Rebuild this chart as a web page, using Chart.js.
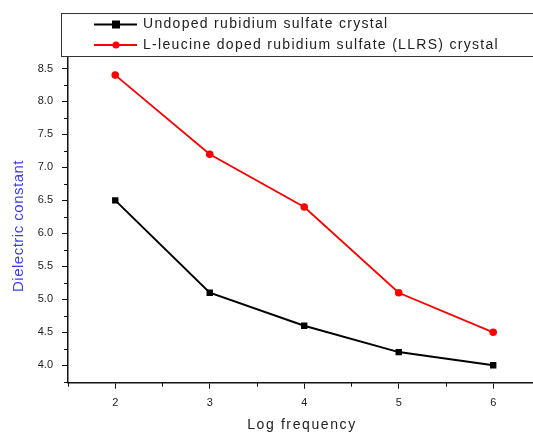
<!DOCTYPE html>
<html>
<head>
<meta charset="utf-8">
<script src="https://cdn.jsdelivr.net/npm/chart.js@4"></script>
<style>
  html, body { margin: 0; padding: 0; background: #fff; overflow: hidden; }
  #wrap { width: 533px; height: 432px; position: relative; overflow: hidden; }
</style>
</head>
<body>
<div id="wrap"><canvas id="c" width="544" height="432"></canvas></div>
<script>
// Log frequency values and dielectric constants
const logFrequency = [2, 3, 4, 5, 6];
const undoped = [6.5, 5.1, 4.6, 4.2, 4.0];
const llrs = [8.4, 7.2, 6.4, 5.1, 4.5];
const seriesNames = [
  'Undoped rubidium sulfate crystal',
  'L-leucine doped rubidium sulfate (LLRS) crystal'
];
const xTitle = 'Log frequency';
const yTitle = 'Dielectric constant';

const FONT = '"Liberation Sans", Arial, sans-serif';

const toPoints = (ys) => logFrequency.map((x, i) => ({ x, y: ys[i] }));

// Minor ticks, axis titles and the boxed legend at the top
const decorations = {
  id: 'decorations',
  afterDraw(chart) {
    const ctx = chart.ctx;
    const xs = chart.scales.x, ys = chart.scales.y;
    const area = chart.chartArea;
    ctx.save();
    ctx.strokeStyle = '#111';
    ctx.lineWidth = 1;
    // minor ticks
    for (let v = 1.5; v < xs.max; v += 1) {
      const px = Math.round(xs.getPixelForValue(v)) + 0.5;
      ctx.beginPath();
      ctx.moveTo(px, area.bottom);
      ctx.lineTo(px, area.bottom + 4);
      ctx.stroke();
    }
    for (let v = 3.75; v < ys.max; v += 0.5) {
      const py = Math.round(ys.getPixelForValue(v)) + 0.5;
      ctx.beginPath();
      ctx.moveTo(area.left, py);
      ctx.lineTo(area.left - 4, py);
      ctx.stroke();
    }

    // axis titles
    ctx.save();
    ctx.translate(19, 226);
    ctx.rotate(-Math.PI / 2);
    ctx.fillStyle = '#3a3aff';
    ctx.font = '15px ' + FONT;
    ctx.letterSpacing = '0.5px';
    ctx.textAlign = 'center';
    ctx.textBaseline = 'middle';
    ctx.fillText(yTitle, 0, 0);
    ctx.restore();

    ctx.save();
    ctx.fillStyle = '#222';
    ctx.font = '14px ' + FONT;
    ctx.letterSpacing = '1.6px';
    ctx.textAlign = 'center';
    ctx.textBaseline = 'middle';
    ctx.fillText(xTitle, 302, 425);
    ctx.restore();

    // legend box
    ctx.fillStyle = '#fff';
    ctx.fillRect(61, 13, 560, 44);
    ctx.strokeStyle = '#333';
    ctx.lineWidth = 1;
    ctx.strokeRect(61.5, 13.5, 560, 43);
    const rows = [24.5, 45];
    chart.data.datasets.forEach((ds, i) => {
      const y = rows[i];
      ctx.strokeStyle = ds.borderColor;
      ctx.lineWidth = 2;
      ctx.beginPath();
      ctx.moveTo(94, y);
      ctx.lineTo(137, y);
      ctx.stroke();
      ctx.fillStyle = ds.pointBackgroundColor;
      if (ds.pointStyle === 'rect') {
        ctx.fillRect(112, y - 4, 8, 8);
      } else {
        ctx.beginPath();
        ctx.arc(116, y, 3.5, 0, Math.PI * 2);
        ctx.fill();
      }
      ctx.fillStyle = '#222';
      ctx.font = '14px ' + FONT;
      ctx.letterSpacing = '1.3px';
      ctx.textAlign = 'left';
      ctx.textBaseline = 'middle';
      ctx.fillText(ds.label, 143, y);
      ctx.letterSpacing = '0px';
    });
    ctx.restore();
  }
};

new Chart(document.getElementById('c'), {
  type: 'line',
  data: {
    datasets: [
      {
        label: seriesNames[0],
        data: toPoints(undoped),
        borderColor: '#000',
        backgroundColor: '#000',
        pointBackgroundColor: '#000',
        pointBorderColor: '#000',
        pointStyle: 'rect',
        pointRadius: 4.5,
        pointBorderWidth: 0,
        borderWidth: 2,
        tension: 0
      },
      {
        label: seriesNames[1],
        data: toPoints(llrs),
        borderColor: '#ff0000',
        backgroundColor: '#ff0000',
        pointBackgroundColor: '#ff0000',
        pointBorderColor: '#ff0000',
        pointStyle: 'circle',
        pointRadius: 3.8,
        pointBorderWidth: 0,
        borderWidth: 1.8,
        tension: 0
      }
    ]
  },
  options: {
    responsive: false,
    animation: false,
    layout: { padding: { top: 52, left: 0, right: 0, bottom: 0 } },
    plugins: { legend: { display: false }, tooltip: { enabled: false } },
    scales: {
      x: {
        type: 'linear',
        min: 1.5,
        max: 6.49,
        afterFit(s) { s.height = 49.3; s.paddingLeft = 0; s.paddingRight = 0; },
        grid: { drawOnChartArea: false, drawTicks: true, tickLength: 6, color: '#111' },
        border: { display: true, color: '#111', width: 1.5 },
        ticks: {
          stepSize: 1,
          includeBounds: false,
          padding: 8,
          color: '#222',
          font: { family: FONT, size: 11 },
          maxRotation: 0
        }
      },
      y: {
        type: 'linear',
        min: 3.736,
        max: 8.75,
        afterFit(s) { s.width = 68; s.paddingTop = 0; s.paddingBottom = 0; },
        grid: { drawOnChartArea: false, drawTicks: true, tickLength: 6, color: '#111' },
        border: { display: true, color: '#111', width: 1.5 },
        ticks: {
          stepSize: 0.5,
          includeBounds: false,
          padding: 9,
          color: '#222',
          font: { family: FONT, size: 11 },
          callback: (v) => Number(v).toFixed(1)
        }
      }
    }
  },
  plugins: [decorations]
});
</script>
</body>
</html>
